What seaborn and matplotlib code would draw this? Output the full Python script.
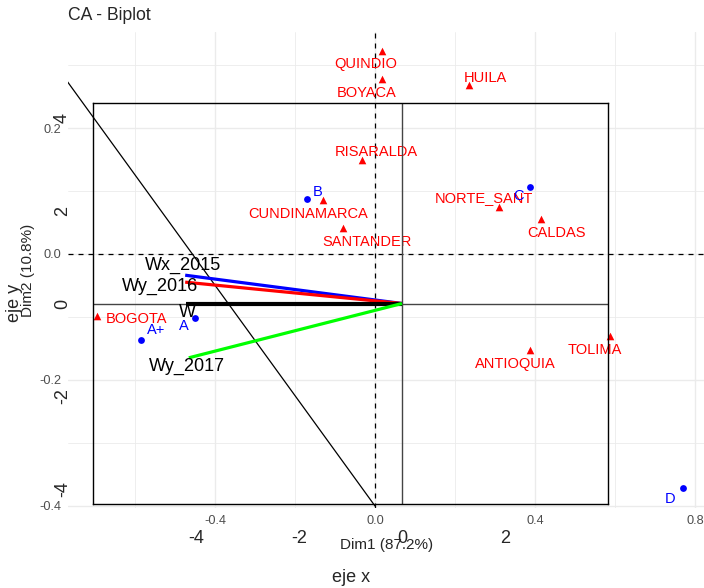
"""CA biplot (factoextra style) with a base-R style arrow plot drawn over it."""

import matplotlib
matplotlib.use("Agg")
import matplotlib.pyplot as plt
import numpy as np
import pandas as pd
import seaborn as sns

# --- CA coordinates (ggplot layer) ---
row_names = ["QUINDIO", "BOYACA", "HUILA", "RISARALDA", "CUNDINAMARCA", "SANTANDER",
             "NORTE_SANT", "CALDAS", "TOLIMA", "ANTIOQUIA", "BOGOTA"]
row_dim1 = [0.017, 0.017, 0.235, -0.033, -0.129, -0.079, 0.310, 0.416, 0.588, 0.388, -0.696]
row_dim2 = [0.322, 0.277, 0.268, 0.149, 0.085, 0.042, 0.075, 0.056, -0.130, -0.153, -0.098]

col_names = ["A+", "A", "B", "C", "D"]
col_dim1 = [-0.586, -0.451, -0.171, 0.387, 0.770]
col_dim2 = [-0.137, -0.102, 0.087, 0.107, -0.372]

# --- vectors (base plot layer) ---
vec_names = ["Wx_2015", "Wy_2016", "W", "Wy_2017"]
vec_x = [-4.21, -4.21, -4.19, -4.14]
vec_y = [0.61, 0.46, 0.0, -1.17]

# label offsets in pixels (dx right, dy down)
row_offsets = [(-16, 13), (-15, 14), (16, -7), (15, -8), (-15, 14), (24, 14),
               (-15, -9), (15, 14), (-15, 14), (-15, 14), (40, 3)]
col_offsets = [(16, -10), (-11, 8), (11, -7), (-11, 9), (-13, 11)]
vec_label_pos = [(-4.25, 0.82), (-4.70, 0.37), (-4.16, -0.19), (-4.17, -1.36)]
vec_colors = ["#0000FF", "#FF0000", "black", "#00FF00"]
vec_widths = [2.3, 2.3, 3.0, 2.3]

W, H = 704, 588


def rect(left, top, right, bottom):
    return [left / W, 1 - bottom / H, (right - left) / W, (bottom - top) / H]


sns.set_style("white")
plt.rcParams["font.family"] = ["Liberation Sans", "DejaVu Sans"]
plt.rcParams["axes.unicode_minus"] = False

fig = plt.figure(figsize=(W / 100, H / 100), dpi=100)

# ---------------- ggplot-like CA biplot ----------------
ax = fig.add_axes(rect(68, 32, 706, 508))
ax.set_xlim(-0.7675, 0.8275)
ax.set_ylim(-0.4032, 0.3524)
for s in ax.spines.values():
    s.set_visible(False)
ax.set_xticks([-0.4, 0.0, 0.4, 0.8])
ax.set_xticklabels(["-0.4", "0.0", "0.4", "0.8"])
ax.set_yticks([-0.4, -0.2, 0.0, 0.2])
ax.set_yticklabels(["-0.4", "-0.2", "0.0", "0.2"])
ax.set_xticks([-0.6, -0.2, 0.2, 0.6], minor=True)
ax.set_yticks([-0.3, -0.1, 0.1, 0.3], minor=True)
ax.grid(True, which="major", color="#EBEBEB", lw=1.0)
ax.grid(True, which="minor", color="#EBEBEB", lw=0.6)
ax.tick_params(which="major", length=3, width=0.8, color="#333333",
               labelcolor="#4D4D4D", labelsize=9.2, pad=2)
ax.tick_params(which="minor", length=0)
ax.set_axisbelow(True)

ax.axhline(0, color="black", lw=0.9, ls=(0, (4, 4)))
ax.axvline(0, color="black", lw=0.9, ls=(0, (4, 4)))
ax.plot([-0.9, 0.0], [-0.4 + 0.876 * 0.9, -0.4], color="black", lw=0.9)

rows = pd.DataFrame({"name": row_names, "dim1": row_dim1, "dim2": row_dim2})
cols = pd.DataFrame({"name": col_names, "dim1": col_dim1, "dim2": col_dim2})
sns.scatterplot(data=rows, x="dim1", y="dim2", marker="^", color="#FF0000",
                s=30, linewidth=0, ax=ax, zorder=3)
sns.scatterplot(data=cols, x="dim1", y="dim2", marker="o", color="#0000FF",
                s=24, linewidth=0, ax=ax, zorder=3)
for (n, x, y), (dx, dy) in zip(rows.itertuples(index=False), row_offsets):
    ax.annotate(n, (x, y), xytext=(dx, -dy), textcoords="offset pixels",
                ha="center", va="center", color="#FF0000", fontsize=10.5)
for (n, x, y), (dx, dy) in zip(cols.itertuples(index=False), col_offsets):
    ax.annotate(n, (x, y), xytext=(dx, -dy), textcoords="offset pixels",
                ha="center", va="center", color="#0000FF", fontsize=10.5)
ax.set_xlabel("")
ax.set_ylabel("")

fig.text(68 / W, 1 - 15 / H, "CA - Biplot", fontsize=12.7, ha="left", va="center")
fig.text(387 / W, 1 - 545 / H, "Dim1 (87.2%)", fontsize=11, ha="center", va="center")
fig.text(28 / W, 1 - 270 / H, "Dim2 (10.8%)", fontsize=11, ha="center", va="center",
         rotation=90)

# ---------------- base-R style overlay ----------------
axr = fig.add_axes(rect(93, 103, 608, 504))
axr.patch.set_alpha(0)
axr.set_xlim(-6.0, 4.0)
axr.set_ylim(-4.32, 4.32)
for s in axr.spines.values():
    s.set_color("black")
    s.set_linewidth(1.0)
axr.set_xticks([-4, -2, 0, 2])
axr.set_yticks([-4, -2, 0, 2, 4])
axr.tick_params(length=5, width=1.0, color="black", labelsize=13, pad=11)
axr.tick_params(axis="x", pad=14)
plt.setp(axr.get_yticklabels(), rotation=90, va="center")
axr.axhline(0, color="#444444", lw=1.0)
axr.axvline(0, color="#444444", lw=1.0)
for x, y, c, lw in zip(vec_x, vec_y, vec_colors, vec_widths):
    axr.plot([0, x], [0, y], color=c, lw=lw, solid_capstyle="butt")
for n, (lx, ly) in zip(vec_names, vec_label_pos):
    axr.text(lx, ly, n, fontsize=13, ha="center", va="center", color="black")

fig.text(351 / W, 1 - 578 / H, "eje x", fontsize=13, ha="center", va="center")
fig.text(15 / W, 1 - 303 / H, "eje y", fontsize=13, ha="center", va="center",
         rotation=90)

fig.savefig("out.png", dpi=100)
plt.close(fig)
